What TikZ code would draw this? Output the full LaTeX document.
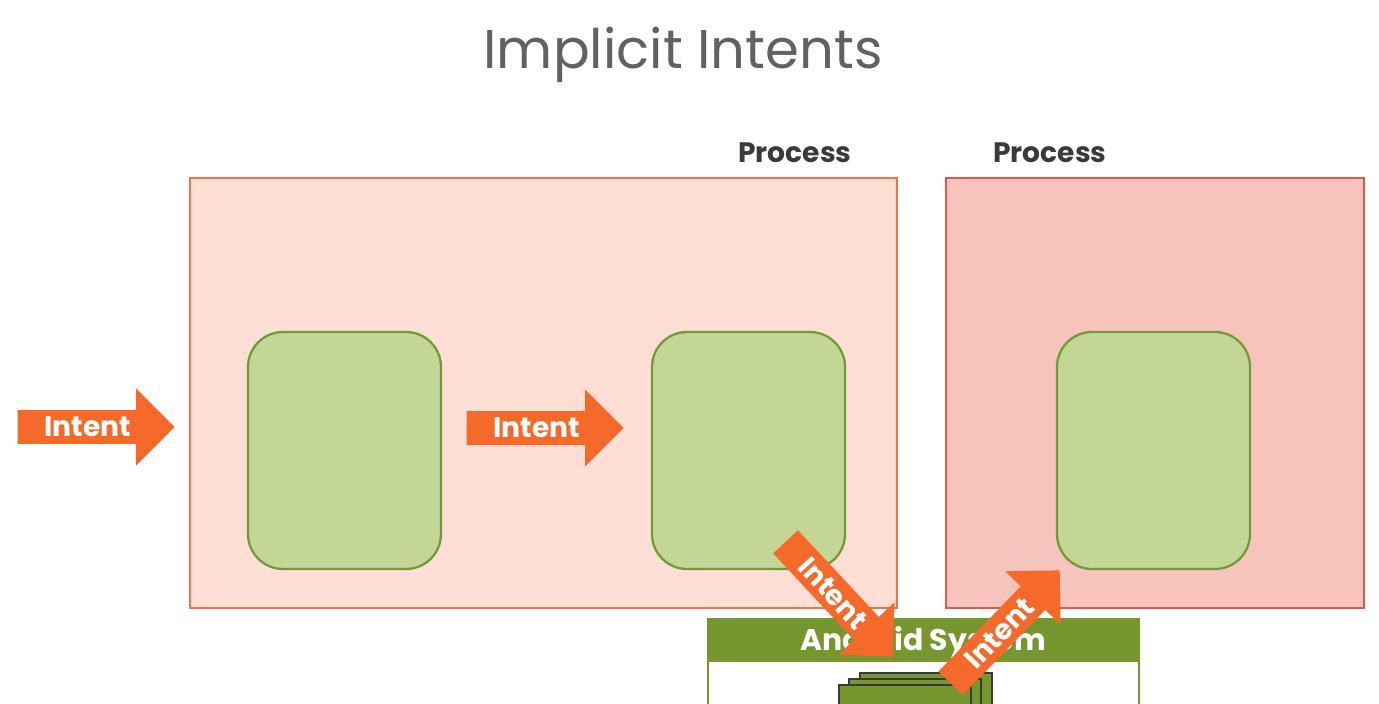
\documentclass[tikz,border=0pt]{standalone}
\usepackage{fontspec}
\setmainfont{Poppins}
\usetikzlibrary{shapes.arrows}
\definecolor{intentorange}{HTML}{F5692A}
\definecolor{procfill}{HTML}{FDDED5}
\definecolor{procline}{HTML}{EE7444}
\definecolor{procfilltwo}{HTML}{F7C3BD}
\definecolor{proclinetwo}{HTML}{E0584A}
\definecolor{actfill}{HTML}{C3D696}
\definecolor{actline}{HTML}{739A38}
\definecolor{sysgreen}{HTML}{76972F}
\definecolor{textgray}{HTML}{3A3A3A}
\tikzset{
  intent/.style={shape=single arrow, fill=intentorange, draw=none, text=white,
    font=\fontsize{16}{16}\selectfont\bfseries, single arrow tip angle=90,
    single arrow head extend=0.39cm, minimum height=3.14cm, minimum width=1.54cm,
    inner sep=0pt, text height=0.5cm, text depth=0.1cm, anchor=tip},
  activity/.style={draw=actline, fill=actfill, line width=1.3pt, rounded corners=0.7cm,
    minimum width=3.86cm, minimum height=4.74cm},
  proclabel/.style={text=textgray, font=\fontsize{16}{16}\selectfont\bfseries}
}
\begin{document}
\begin{tikzpicture}
\useasboundingbox (0,0) rectangle (27.58,14.06);
\clip (0,0) rectangle (27.58,14.06);

\node[text=textgray!80, font=\fontsize{31}{31}\selectfont] (title) at (13.66,12.96) {Implicit Intents};

% processes
\draw[procline, fill=procfill, line width=1.3pt] (3.80,1.90) rectangle (17.94,10.50);
\draw[proclinetwo, fill=procfilltwo, line width=1.3pt] (18.92,1.90) rectangle (27.28,10.50);
\node[proclabel] (proc1) at (15.90,11.00) {Process};
\node[proclabel] (proc2) at (21.00,11.00) {Process};

\node[activity] (act1) at (6.89,5.05) {};
\node[activity] (act2) at (14.97,5.05) {};
\node[activity] (act3) at (23.07,5.05) {};

% android system
\draw[sysgreen, fill=white, line width=1.3pt] (14.16,1.68) rectangle (22.78,-1);
\fill[sysgreen] (14.16,1.68) rectangle (22.78,0.82);
\node[text=white, font=\fontsize{17}{17}\selectfont\bfseries] (sys) at (18.46,1.22) {Android System};
\draw[textgray, fill=sysgreen, line width=1.3pt] (17.20,0.60) rectangle (19.84,-1);
\draw[textgray, fill=sysgreen, line width=1.3pt] (16.98,0.48) rectangle (19.62,-1);
\draw[textgray, fill=sysgreen, line width=1.3pt] (16.78,0.36) rectangle (19.42,-1);

% intents
\node[intent] (in1) at (3.50,5.52) {Intent};
\node[intent] (in2) at (12.48,5.50) {Intent};
\node[intent, rotate=-47] (in3) at (17.86,0.92) {Intent};
\node[intent, rotate=46] (in4) at (21.20,2.66) {Intent};
\end{tikzpicture}
\end{document}
